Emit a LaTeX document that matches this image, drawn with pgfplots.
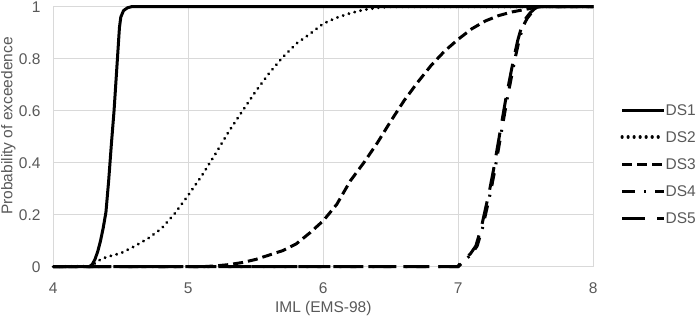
\documentclass[border=0pt]{standalone}
\usepackage{fontspec}
\setmainfont{Liberation Sans}
\usepackage{pgfplots}
\pgfplotsset{compat=1.18}
\definecolor{txtgray}{HTML}{595959}
\definecolor{gridgray}{HTML}{D9D9D9}
\newcommand\chartfont{\fontsize{15.5}{18}\selectfont}

\begin{document}
\begin{tikzpicture}
\begin{axis}[
    width=540pt, height=260pt, scale only axis,
    xmin=4, xmax=8, ymin=0, ymax=1,
    xtick={4,5,6,7,8},
    ytick={0,0.2,0.4,0.6,0.8,1},
    grid=major,
    major grid style={line width=0.8pt, draw=gridgray},
    axis line style={draw=none},
    major tick length=0pt,
    clip=false,
    /pgf/number format/assume math mode=true,
    tick label style={font=\chartfont, text=txtgray, inner sep=0pt},
    x tick label style={anchor=base, yshift=-26.6pt},
    y tick label style={anchor=east, xshift=-12.6pt},
    label style={font=\chartfont, text=txtgray, inner sep=0pt},
    xlabel={IML (EMS-98)},
    ylabel={Probability of exceedence},
    xlabel style={at={(axis description cs:0.5,-0.178)}, anchor=base},
    ylabel style={at={(axis description cs:-0.083,0.541)}, anchor=center},
    legend image code/.code={\draw[#1] (0pt,0pt) -- (42pt,0pt);},
    legend style={
        at={(axis description cs:1.050,0.395)}, anchor=west,
        draw=none, fill=none, inner sep=0pt,
        font=\chartfont, text=txtgray,
        row sep=16pt, column sep=0pt,
        nodes={inner sep=0pt, text height=11pt, text depth=0pt},
        cells={anchor=west},
    },
]
\coordinate (bl) at (rel axis cs:0,0);
\coordinate (tr) at (rel axis cs:1,1);

% DS1
\addplot[black, line width=3pt, line join=round] coordinates {
(4.00,0) (4.27,0) (4.29,0.01) (4.31,0.03) (4.33,0.06) (4.35,0.10) (4.37,0.15)
(4.39,0.21) (4.41,0.33) (4.43,0.47) (4.45,0.60) (4.47,0.76) (4.48,0.84)
(4.49,0.92) (4.50,0.96) (4.52,0.985) (4.55,0.996) (4.58,1.0) (8.00,1.0)};
% DS2
\addplot[black, line width=3.2pt, line cap=round, dash pattern=on 0.01pt off 6pt] coordinates {
(4.00,0) (4.27,0.002) (4.30,0.01) (4.35,0.028) (4.40,0.038) (4.50,0.052)
(4.60,0.078) (4.70,0.108) (4.80,0.146) (4.90,0.205) (5.00,0.275) (5.10,0.35)
(5.20,0.433) (5.30,0.52) (5.40,0.598) (5.50,0.675) (5.60,0.745) (5.70,0.806)
(5.80,0.858) (5.90,0.895) (6.00,0.935) (6.10,0.958) (6.20,0.975) (6.30,0.988)
(6.40,0.996) (6.50,1.0) (8.00,1.0)};
% DS3
\addplot[black, line width=3pt, dash pattern=on 10pt off 5pt] coordinates {
(4.00,0) (5.10,0) (5.20,0.003) (5.30,0.008) (5.40,0.016) (5.50,0.028)
(5.60,0.045) (5.70,0.062) (5.80,0.088) (5.90,0.13) (6.00,0.177) (6.10,0.24)
(6.20,0.33) (6.30,0.40) (6.40,0.476) (6.50,0.56) (6.60,0.64) (6.70,0.71)
(6.80,0.775) (6.90,0.83) (7.00,0.875) (7.10,0.915) (7.20,0.945) (7.30,0.966)
(7.40,0.98) (7.50,0.99) (7.60,1.0) (8.00,1.0)};
% DS4
\addplot[black, line width=3pt, dash pattern=on 13pt off 9pt on 2pt off 9pt] coordinates {
(4.00,0) (7.00,0) (7.02,0.01) (7.05,0.025) (7.10,0.05) (7.14,0.08) (7.18,0.15)
(7.21,0.22) (7.24,0.29) (7.27,0.37) (7.30,0.46) (7.33,0.55) (7.36,0.64)
(7.39,0.72) (7.42,0.80) (7.45,0.87) (7.48,0.925) (7.51,0.955) (7.54,0.975)
(7.57,0.99) (7.60,1.0) (8.00,1.0)};
% DS5
\addplot[black, line width=3pt, dash pattern=on 23pt off 12pt] coordinates {
(4.00,0) (6.995,0) (7.01,0.01) (7.04,0.025) (7.09,0.05) (7.13,0.08) (7.17,0.15)
(7.20,0.22) (7.23,0.29) (7.26,0.37) (7.29,0.46) (7.32,0.55) (7.35,0.64)
(7.38,0.72) (7.41,0.80) (7.44,0.87) (7.47,0.925) (7.50,0.955) (7.53,0.975)
(7.56,0.99) (7.59,1.0) (8.00,1.0)};
\legend{DS1, DS2, DS3, DS4, DS5}
\end{axis}
\pgfresetboundingbox
\path[use as bounding box] ([shift={(-53.3pt,-49.3pt)}]bl) rectangle ([shift={(105.7pt,6.7pt)}]tr);
\end{tikzpicture}
\end{document}
